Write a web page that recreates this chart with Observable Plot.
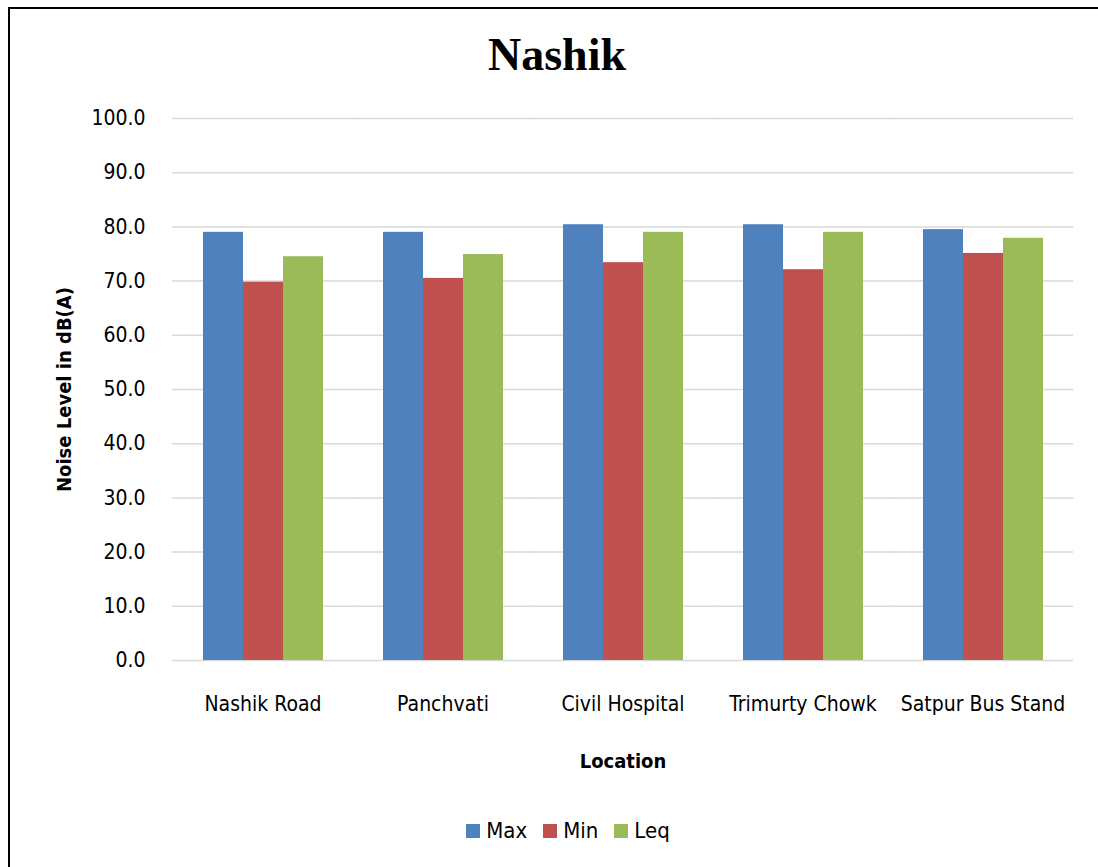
<!DOCTYPE html>
<html>
<head>
<meta charset="utf-8">
<script src="https://cdn.jsdelivr.net/npm/d3@7"></script>
<script src="https://cdn.jsdelivr.net/npm/@observablehq/plot@0.6"></script>
<style>
  html, body { margin: 0; padding: 0; background: #fff; width: 1098px; height: 867px; overflow: hidden; }
  #frame { position: absolute; left: 8px; top: 7px; width: 1100px; height: 880px; border: 2px solid #000; box-sizing: border-box; }
  #title { position: absolute; left: 0; width: 1114px; top: 28px; text-align: center; font-family: "Liberation Serif", "Times New Roman", serif; font-weight: bold; font-size: 46px; color: #000; }
  #chart { position: absolute; left: 0; top: 90px; }
  #chart [aria-label$="axis label"] text { font-weight: bold; font-size: 20px; }
  #legend { position: absolute; top: 818px; left: 0; width: 1098px; display: flex; justify-content: center; gap: 16px; font-family: "DejaVu Sans", sans-serif; font-stretch: condensed; font-size: 22px; padding-left: 38px; box-sizing: border-box; }
  #legend .item { display: flex; align-items: center; gap: 6px; }
  #legend .sw { width: 14px; height: 14px; display: inline-block; }
</style>
</head>
<body>
<div id="frame"></div>
<div id="title">Nashik</div>
<div id="chart"></div>
<div id="legend"></div>
<script>
const locations = ["Nashik Road", "Panchvati", "Civil Hospital", "Trimurty Chowk", "Satpur Bus Stand"];
const series = ["Max", "Min", "Leq"];
const maxValues = [79.0, 79.0, 80.4, 80.4, 79.5];
const minValues = [69.8, 70.5, 73.4, 72.1, 75.1];
const leqValues = [74.5, 74.9, 79.0, 79.0, 77.9];
const colors = ["#4F81BD", "#C0504D", "#9BBB59"];
const yTicks = [0, 10, 20, 30, 40, 50, 60, 70, 80, 90, 100];

const valuesBySeries = {Max: maxValues, Min: minValues, Leq: leqValues};
const data = [];
locations.forEach((loc, i) => {
  series.forEach(s => data.push({location: loc, series: s, value: valuesBySeries[s][i]}));
});

const chart = Plot.plot({
  width: 1098,
  height: 700,
  marginLeft: 171,
  marginRight: 24,
  marginTop: 28,
  marginBottom: 130,
  style: {fontSize: "21px", fontFamily: "'DejaVu Sans', sans-serif", fontStretch: "condensed", color: "#000", background: "transparent"},
  fx: {domain: locations, paddingInner: 0.33, paddingOuter: 0.165, label: null},
  x: {domain: series, padding: 0, axis: null},
  y: {domain: [0, 100], ticks: yTicks},
  color: {domain: series, range: colors},
  marks: [
    Plot.ruleY(yTicks, {stroke: "#d9d9d9", strokeWidth: 1.5, insetLeft: -30.2, insetRight: -30.2}),
    Plot.axisY(yTicks, {tickSize: 0, tickPadding: 57, tickFormat: d => d.toFixed(1), label: "Noise Level in dB(A)", labelAnchor: "center", labelArrow: "none", labelOffset: 146, fontSize: 21}),
    Plot.axisFx({anchor: "bottom", tickSize: 0, tickPadding: 36, label: "Location", labelAnchor: "center", labelArrow: "none", labelOffset: 107, fontSize: 21}),
    Plot.barY(data, {fx: "location", x: "series", y: "value", fill: "series"})
  ]
});
document.getElementById("chart").appendChild(chart);

const legend = document.getElementById("legend");
series.forEach((s, i) => {
  const item = document.createElement("div");
  item.className = "item";
  item.innerHTML = `<span class="sw" style="background:${colors[i]}"></span><span>${s}</span>`;
  legend.appendChild(item);
});
</script>
</body>
</html>
